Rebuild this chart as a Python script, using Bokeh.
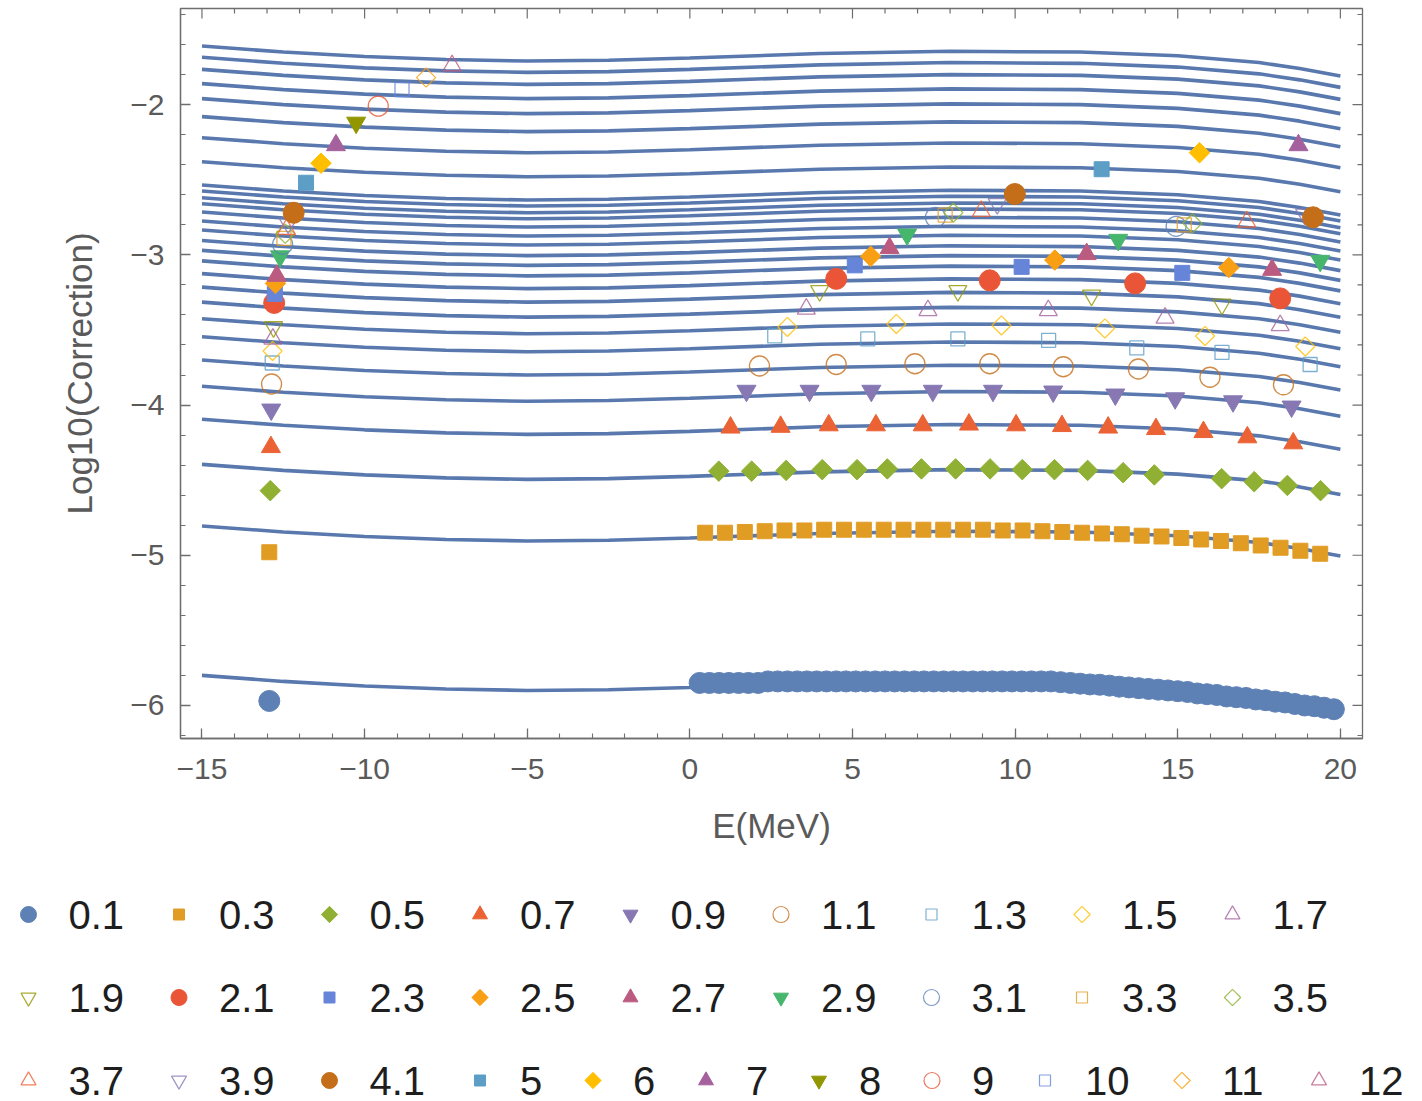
import math
from bokeh.plotting import figure
from bokeh.models import Range1d, FixedTicker
from bokeh.layouts import column
from bokeh.embed import file_html
from bokeh.resources import INLINE
from bokeh.core.properties import value

# ---------------- data ----------------
SERIES = ["0.1", "0.3", "0.5", "0.7", "0.9", "1.1", "1.3", "1.5", "1.7",
          "1.9", "2.1", "2.3", "2.5", "2.7", "2.9", "3.1", "3.3", "3.5",
          "3.7", "3.9", "4.1", "5", "6", "7", "8", "9", "10", "11", "12"]

X_TICKS = [-15, -10, -5, 0, 5, 10, 15, 20]
Y_TICKS = [-6, -5, -4, -3, -2]

# points (E, log10 correction)
X_0p1 = [-12.93,
         0.3, 0.6, 0.9, 1.2, 1.5, 1.8, 2.1, 2.4, 2.7, 3.0,
         3.3, 3.6, 3.9, 4.2, 4.5, 4.8, 5.1, 5.4, 5.7, 6.0,
         6.3, 6.6, 6.9, 7.2, 7.5, 7.8, 8.1, 8.4, 8.7, 9.0,
         9.3, 9.6, 9.9, 10.2, 10.5, 10.8, 11.1, 11.4, 11.7, 12.0,
         12.3, 12.6, 12.9, 13.2, 13.5, 13.8, 14.1, 14.4, 14.7, 15.0,
         15.3, 15.6, 15.9, 16.2, 16.5, 16.8, 17.1, 17.4, 17.7, 18.0,
         18.3, 18.6, 18.9, 19.2, 19.5, 19.8]
Y_0p1 = [-5.97,
         -5.85, -5.85, -5.85, -5.85, -5.85, -5.85, -5.85, -5.84, -5.84, -5.84,
         -5.84, -5.84, -5.84, -5.84, -5.84, -5.84, -5.84, -5.84, -5.84, -5.84,
         -5.84, -5.84, -5.84, -5.84, -5.84, -5.84, -5.84, -5.84, -5.84, -5.84,
         -5.84, -5.84, -5.84, -5.84, -5.84, -5.84, -5.84, -5.845, -5.85, -5.855,
         -5.86, -5.862, -5.868, -5.875, -5.88, -5.885, -5.89, -5.895, -5.90, -5.905,
         -5.91, -5.92, -5.925, -5.93, -5.94, -5.945, -5.95, -5.96, -5.965, -5.975,
         -5.98, -5.99, -6.0, -6.005, -6.015, -6.025]
X_0p3 = [-12.93, 0.47, 1.08, 1.69, 2.30, 2.91, 3.52, 4.13, 4.74, 5.35, 5.96,
         6.57, 7.18, 7.79, 8.40, 9.01, 9.62, 10.23, 10.84, 11.45, 12.06,
         12.67, 13.28, 13.89, 14.50, 15.11, 15.72, 16.33, 16.94, 17.55, 18.16,
         18.77, 19.38]
Y_0p3 = [-4.98, -4.85, -4.85, -4.845, -4.84, -4.835, -4.835, -4.83, -4.83, -4.83, -4.83,
         -4.83, -4.83, -4.83, -4.83, -4.83, -4.835, -4.835, -4.84, -4.845, -4.85,
         -4.855, -4.86, -4.87, -4.875, -4.885, -4.895, -4.905, -4.92, -4.935, -4.95,
         -4.97, -4.99]
X_0p5 = [-12.9, 0.89, 1.90, 2.96, 4.07, 5.14, 6.07, 7.12, 8.17, 9.23, 10.22,
         11.21, 12.23, 13.32, 14.28, 16.35, 17.35, 18.37, 19.39]
Y_0p5 = [-4.57, -4.44, -4.44, -4.435, -4.43, -4.43, -4.425, -4.425, -4.425, -4.425, -4.43,
         -4.43, -4.435, -4.45, -4.465, -4.49, -4.51, -4.535, -4.57]
X_0p7 = [-12.88, 1.25, 2.79, 4.27, 5.72, 7.16, 8.58, 10.03, 11.44, 12.86, 14.33,
         15.79, 17.14, 18.55]
Y_0p7 = [-4.28, -4.15, -4.145, -4.135, -4.135, -4.135, -4.13, -4.135, -4.14, -4.15, -4.16,
         -4.18, -4.215, -4.255]
X_0p9 = [-12.87, 1.74, 3.68, 5.58, 7.47, 9.32, 11.17, 13.08, 14.92, 16.7, 18.5]
Y_0p9 = [-4.03, -3.905, -3.905, -3.905, -3.905, -3.905, -3.91, -3.93, -3.955, -3.975, -4.01]
X_1p1 = [-12.86, 2.14, 4.5, 6.92, 9.22, 11.48, 13.79, 15.99, 18.25]
Y_1p1 = [-3.86, -3.74, -3.73, -3.725, -3.725, -3.745, -3.76, -3.815, -3.865]
X_1p3 = [-12.84, 2.61, 5.47, 8.24, 11.03, 13.74, 16.36, 19.07]
Y_1p3 = [-3.72, -3.54, -3.56, -3.56, -3.57, -3.62, -3.65, -3.73]
X_1p5 = [-12.83, 3.0, 6.35, 9.58, 12.76, 15.84, 18.92]
Y_1p5 = [-3.64, -3.48, -3.46, -3.47, -3.49, -3.54, -3.61]
X_1p7 = [-12.82, 3.58, 7.32, 11.02, 14.61, 18.15]
Y_1p7 = [-3.56, -3.36, -3.37, -3.37, -3.42, -3.47]
X_1p9 = [-12.8, 3.99, 8.24, 12.35, 16.36]
Y_1p9 = [-3.48, -3.24, -3.24, -3.27, -3.33]
X_2p1 = [-12.78, 4.5, 9.22, 13.69, 18.15]
Y_2p1 = [-3.32, -3.16, -3.17, -3.19, -3.29]
X_2p3 = [-12.76, 5.07, 10.2, 15.14]
Y_2p3 = [-3.26, -3.07, -3.08, -3.12]
X_2p5 = [-12.74, 5.56, 11.22, 16.57]
Y_2p5 = [-3.19, -3.01, -3.035, -3.085]
X_2p7 = [-12.7, 6.14, 12.2, 17.9]
Y_2p7 = [-3.14, -2.955, -2.995, -3.10]
X_2p9 = [-12.6, 6.68, 13.17, 19.38]
Y_2p9 = [-3.01, -2.865, -2.90, -3.04]
X_3p1 = [-12.52, 7.55, 14.95]
Y_3p1 = [-2.93, -2.75, -2.81]
X_3p3 = [-12.48, 7.85, 15.2]
Y_3p3 = [-2.89, -2.735, -2.80]
X_3p5 = [-12.44, 8.1, 15.45]
Y_3p5 = [-2.86, -2.72, -2.79]
X_3p7 = [-12.4, 8.96, 17.12]
Y_3p7 = [-2.83, -2.71, -2.78]
X_3p9 = [-12.35, 9.45, 18.9]
Y_3p9 = [-2.79, -2.66, -2.73]
X_4p1 = [-12.18, 9.99, 19.16]
Y_4p1 = [-2.72, -2.595, -2.75]
X_5 = [-11.8, 12.66]
Y_5 = [-2.52, -2.43]
X_6 = [-11.34, 15.67]
Y_6 = [-2.39, -2.32]
X_7 = [-10.88, 18.71]
Y_7 = [-2.27, -2.27]
X_8 = [-10.26]
Y_8 = [-2.12]
X_9 = [-9.58]
Y_9 = [-2.01]
X_10 = [-8.85]
Y_10 = [-1.90]
X_11 = [-8.11]
Y_11 = [-1.82]
X_12 = [-7.31]
Y_12 = [-1.74]

# fitted curves, sampled at these energies
LINE_E = [-15, -12.5, -10, -7.5, -5, -2.5, 0, 4, 8, 12, 15, 17.5, 18.75, 20]
L_0p1 = [-5.80, -5.84, -5.87, -5.89, -5.90, -5.895, -5.88, -5.85, -5.835, -5.84, -5.865, -5.91, -5.95, -6.00]
L_0p3 = [-4.805, -4.845, -4.875, -4.895, -4.905, -4.90, -4.885, -4.855, -4.84, -4.845, -4.87, -4.915, -4.955, -5.005]
L_0p5 = [-4.395, -4.435, -4.465, -4.485, -4.495, -4.49, -4.475, -4.445, -4.43, -4.435, -4.46, -4.505, -4.545, -4.595]
L_0p7 = [-4.095, -4.135, -4.165, -4.185, -4.195, -4.19, -4.175, -4.145, -4.13, -4.135, -4.16, -4.205, -4.245, -4.295]
L_0p9 = [-3.875, -3.915, -3.945, -3.965, -3.975, -3.97, -3.955, -3.925, -3.91, -3.915, -3.94, -3.985, -4.025, -4.075]
L_1p1 = [-3.70, -3.74, -3.77, -3.79, -3.80, -3.795, -3.78, -3.75, -3.735, -3.74, -3.765, -3.81, -3.85, -3.90]
L_1p3 = [-3.545, -3.585, -3.615, -3.635, -3.645, -3.64, -3.625, -3.595, -3.58, -3.585, -3.61, -3.655, -3.695, -3.745]
L_1p5 = [-3.425, -3.465, -3.495, -3.515, -3.525, -3.52, -3.505, -3.475, -3.46, -3.465, -3.49, -3.535, -3.575, -3.625]
L_1p7 = [-3.315, -3.355, -3.385, -3.405, -3.415, -3.41, -3.395, -3.365, -3.35, -3.355, -3.38, -3.425, -3.465, -3.515]
L_1p9 = [-3.215, -3.255, -3.285, -3.305, -3.315, -3.31, -3.295, -3.265, -3.25, -3.255, -3.28, -3.325, -3.365, -3.415]
L_2p1 = [-3.125, -3.165, -3.195, -3.215, -3.225, -3.22, -3.205, -3.175, -3.16, -3.165, -3.19, -3.235, -3.275, -3.325]
L_2p3 = [-3.04, -3.08, -3.11, -3.13, -3.14, -3.135, -3.12, -3.09, -3.075, -3.08, -3.105, -3.15, -3.19, -3.24]
L_2p5 = [-2.97, -3.01, -3.04, -3.06, -3.07, -3.065, -3.05, -3.02, -3.005, -3.01, -3.035, -3.08, -3.12, -3.17]
L_2p7 = [-2.905, -2.945, -2.975, -2.995, -3.005, -3.00, -2.985, -2.955, -2.94, -2.945, -2.97, -3.015, -3.055, -3.105]
L_2p9 = [-2.835, -2.875, -2.905, -2.925, -2.935, -2.93, -2.915, -2.885, -2.87, -2.875, -2.90, -2.945, -2.985, -3.035]
L_3p1 = [-2.775, -2.815, -2.845, -2.865, -2.875, -2.87, -2.855, -2.825, -2.81, -2.815, -2.84, -2.885, -2.925, -2.975]
L_3p3 = [-2.715, -2.755, -2.785, -2.805, -2.815, -2.81, -2.795, -2.765, -2.75, -2.755, -2.78, -2.825, -2.865, -2.915]
L_3p5 = [-2.66, -2.70, -2.73, -2.75, -2.76, -2.755, -2.74, -2.71, -2.695, -2.70, -2.725, -2.77, -2.81, -2.86]
L_3p7 = [-2.62, -2.66, -2.69, -2.71, -2.72, -2.715, -2.70, -2.67, -2.655, -2.66, -2.685, -2.73, -2.77, -2.82]
L_3p9 = [-2.575, -2.615, -2.645, -2.665, -2.675, -2.67, -2.655, -2.625, -2.61, -2.615, -2.64, -2.685, -2.725, -2.775]
L_4p1 = [-2.535, -2.575, -2.605, -2.625, -2.635, -2.63, -2.615, -2.585, -2.57, -2.575, -2.60, -2.645, -2.685, -2.735]
L_5 = [-2.38, -2.42, -2.45, -2.47, -2.48, -2.475, -2.46, -2.43, -2.415, -2.42, -2.445, -2.49, -2.53, -2.58]
L_6 = [-2.22, -2.26, -2.29, -2.31, -2.32, -2.315, -2.30, -2.27, -2.255, -2.26, -2.285, -2.33, -2.37, -2.42]
L_7 = [-2.08, -2.12, -2.15, -2.17, -2.18, -2.175, -2.16, -2.13, -2.115, -2.12, -2.145, -2.19, -2.23, -2.28]
L_8 = [-1.96, -2.00, -2.03, -2.05, -2.06, -2.055, -2.04, -2.01, -1.995, -2.00, -2.025, -2.07, -2.11, -2.16]
L_9 = [-1.86, -1.90, -1.93, -1.95, -1.96, -1.955, -1.94, -1.91, -1.895, -1.90, -1.925, -1.97, -2.01, -2.06]
L_10 = [-1.765, -1.805, -1.835, -1.855, -1.865, -1.86, -1.845, -1.815, -1.80, -1.805, -1.83, -1.875, -1.915, -1.965]
L_11 = [-1.685, -1.725, -1.755, -1.775, -1.785, -1.78, -1.765, -1.735, -1.72, -1.725, -1.75, -1.795, -1.835, -1.885]
L_12 = [-1.61, -1.65, -1.68, -1.70, -1.71, -1.705, -1.69, -1.66, -1.645, -1.65, -1.675, -1.72, -1.76, -1.81]

POINTS_X = [X_0p1, X_0p3, X_0p5, X_0p7, X_0p9, X_1p1, X_1p3, X_1p5, X_1p7, X_1p9,
            X_2p1, X_2p3, X_2p5, X_2p7, X_2p9, X_3p1, X_3p3, X_3p5, X_3p7, X_3p9,
            X_4p1, X_5, X_6, X_7, X_8, X_9, X_10, X_11, X_12]
POINTS_Y = [Y_0p1, Y_0p3, Y_0p5, Y_0p7, Y_0p9, Y_1p1, Y_1p3, Y_1p5, Y_1p7, Y_1p9,
            Y_2p1, Y_2p3, Y_2p5, Y_2p7, Y_2p9, Y_3p1, Y_3p3, Y_3p5, Y_3p7, Y_3p9,
            Y_4p1, Y_5, Y_6, Y_7, Y_8, Y_9, Y_10, Y_11, Y_12]
CURVES = [L_0p1, L_0p3, L_0p5, L_0p7, L_0p9, L_1p1, L_1p3, L_1p5, L_1p7, L_1p9,
          L_2p1, L_2p3, L_2p5, L_2p7, L_2p9, L_3p1, L_3p3, L_3p5, L_3p7, L_3p9,
          L_4p1, L_5, L_6, L_7, L_8, L_9, L_10, L_11, L_12]

# ---------------- style ----------------
PALETTE = ["#5E81B5", "#E19C24", "#8FB032", "#EB6235", "#8778B3", "#C56E1A",
           "#5D9EC7", "#FFBF00", "#A5619D", "#929600", "#E95536", "#6685D9",
           "#F89F13", "#BC5B80", "#47B66D"]
SHAPES = ["circle", "square", "diamond", "triangle", "inverted_triangle"]
# diamonds are drawn as squares turned by 45 degrees (Mathematica-like proportions)
GLYPH = {"circle": ("circle", 0.0), "square": ("square", 0.0),
         "diamond": ("square", math.pi / 4), "triangle": ("triangle", 0.0),
         "inverted_triangle": ("inverted_triangle", 0.0)}
PLOT_SIZE = {"circle": 21, "square": 15, "diamond": 14.5, "triangle": 19, "inverted_triangle": 19}
LEG_SIZE = {"circle": 16, "square": 11, "diamond": 11.5, "triangle": 15, "inverted_triangle": 15}
FONT = "Liberation Sans"
AX_COL = "#6e6e6e"
LINE_COL = "#5878ae"

XMIN, XMAX = -15.66, 20.68
YMIN, YMAX = -6.22, -1.36
FRAME_W, FRAME_H = 1182, 730
BORDER_L, BORDER_R, BORDER_T, BORDER_B = 180, 60, 8, 132


def style_of(i):
    shape = SHAPES[i % 5]
    filled = (i % 10) < 5
    color = PALETTE[i % 15]
    return shape, filled, color


p = figure(width=BORDER_L + FRAME_W + BORDER_R, height=BORDER_T + FRAME_H + BORDER_B,
           x_range=Range1d(XMIN, XMAX), y_range=Range1d(YMIN, YMAX),
           output_backend="svg", toolbar_location=None,
           min_border_left=BORDER_L, min_border_right=BORDER_R,
           min_border_top=BORDER_T, min_border_bottom=BORDER_B,
           x_axis_label="E(MeV)", y_axis_label="Log10(Correction)")
p.frame_align = False
p.xgrid.visible = False
p.ygrid.visible = False
p.outline_line_color = AX_COL
p.outline_line_width = 1.3
p.background_fill_color = "white"
p.border_fill_color = "white"

x_minor = [v for v in range(-15, 21)]
y_minor = [round(-6.2 + 0.2 * k, 1) for k in range(0, 25)]

p.xaxis.ticker = FixedTicker(ticks=X_TICKS, minor_ticks=x_minor)
p.yaxis.ticker = FixedTicker(ticks=Y_TICKS, minor_ticks=y_minor)

for ax in p.axis:
    ax.axis_line_color = AX_COL
    ax.axis_line_width = 1.3
    ax.major_tick_line_color = AX_COL
    ax.minor_tick_line_color = AX_COL
    ax.major_tick_line_width = 1.3
    ax.minor_tick_line_width = 1.1
    ax.major_tick_in = 10
    ax.major_tick_out = 0
    ax.minor_tick_in = 5
    ax.minor_tick_out = 0
    ax.major_label_text_font = FONT
    ax.major_label_text_color = "#5a5a5a"
    ax.major_label_text_font_size = "30px"
    ax.axis_label_text_font = FONT
    ax.axis_label_text_font_style = "normal"
    ax.axis_label_text_color = "#5a5a5a"
    ax.axis_label_text_font_size = "35px"

p.xaxis.major_label_standoff = 20
p.xaxis.axis_label_standoff = 24
p.yaxis.major_label_standoff = 16
p.yaxis.axis_label_standoff = 28

# inward ticks on the top and right frame edges (frame decoration)
px_per_x = FRAME_W / (XMAX - XMIN)
px_per_y = FRAME_H / (YMAX - YMIN)
tx0, ty0, tx1, ty1 = [], [], [], []
for t in x_minor:
    ln = 10 if t in X_TICKS else 5
    tx0.append(t); ty0.append(YMAX); tx1.append(t); ty1.append(YMAX - ln / px_per_y)
for t in y_minor:
    ln = 10 if any(abs(t - m) < 1e-9 for m in Y_TICKS) else 5
    tx0.append(XMAX); ty0.append(t); tx1.append(XMAX - ln / px_per_x); ty1.append(t)
p.segment(x0=tx0, y0=ty0, x1=tx1, y1=ty1, line_color=AX_COL, line_width=1.2)

# curves
for ys in CURVES:
    p.line(LINE_E, ys, line_color=LINE_COL, line_width=3.6)

# points
for i, name in enumerate(SERIES):
    shape, filled, color = style_of(i)
    mk, ang = GLYPH[shape]
    if filled:
        p.scatter(POINTS_X[i], POINTS_Y[i], marker=mk, angle=ang, size=PLOT_SIZE[shape],
                  fill_color=color, line_color=color, line_width=1)
    else:
        p.scatter(POINTS_X[i], POINTS_Y[i], marker=mk, angle=ang, size=PLOT_SIZE[shape] - 1,
                  fill_color=None, line_color=color, line_width=1.3, line_alpha=0.8)

# ---------------- legend (separate panel) ----------------
LEG_W, LEG_H = 1422, 231
leg = figure(width=LEG_W, height=LEG_H, x_range=Range1d(0, LEG_W), y_range=Range1d(LEG_H, 0),
             output_backend="svg", toolbar_location=None, min_border=0,
             x_axis_location=None, y_axis_location=None)
leg.frame_align = False
leg.xgrid.visible = False
leg.ygrid.visible = False
leg.outline_line_color = None
leg.border_fill_color = "white"
leg.background_fill_color = "white"

ROW_SIZES = [9, 9, 11]
ROW_Y = [44, 127, 210]
LEG_FONT_PX = 40


def item_w(s):
    # marker + gap + label + gap, label width from its characters
    return 89 + sum((13.5 if ch == "." else 24) for ch in s)


idx = 0
for r, n in enumerate(ROW_SIZES):
    x = 28.0
    for _ in range(n):
        name = SERIES[idx]
        shape, filled, color = style_of(idx)
        mk, ang = GLYPH[shape]
        if filled:
            leg.scatter([x], [ROW_Y[r]], marker=mk, angle=ang, size=LEG_SIZE[shape],
                        fill_color=color, line_color=color)
        else:
            leg.scatter([x], [ROW_Y[r]], marker=mk, angle=ang, size=LEG_SIZE[shape],
                        fill_color=None, line_color=color, line_width=1.2, line_alpha=0.8)
        leg.text([x + 40], [ROW_Y[r]], text=[name], text_font=value(FONT),
                 text_font_size=f"{LEG_FONT_PX}px", text_baseline="middle",
                 text_align="left", text_color="#1e1e1e")
        x += item_w(name)
        idx += 1

layout = column(p, leg, spacing=0)
open("out.html", "w").write(file_html(layout, INLINE))
